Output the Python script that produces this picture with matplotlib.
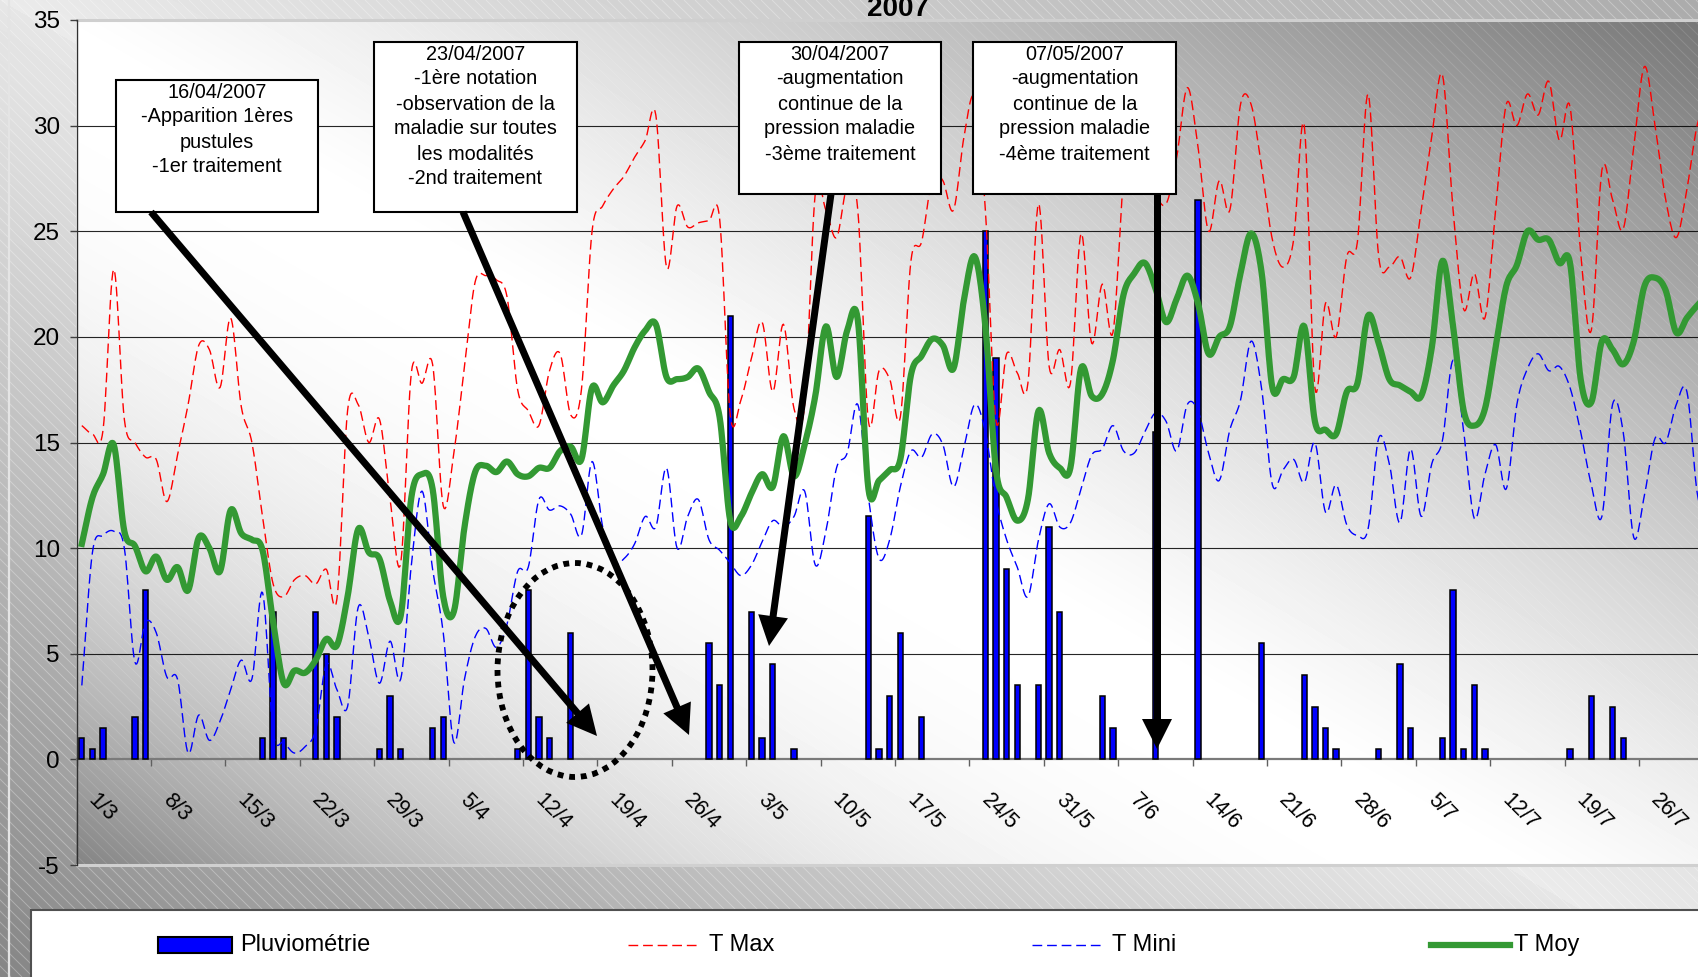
import numpy as np
import matplotlib
matplotlib.use("Agg")
import matplotlib.pyplot as plt
from matplotlib.patches import Rectangle, Ellipse, Polygon
from matplotlib.collections import LineCollection
from matplotlib.transforms import ScaledTranslation

plt.rcParams['font.family'] = ['Liberation Sans', 'DejaVu Sans']
plt.rcParams['axes.unicode_minus'] = False

W, H, DPI = 1698, 977, 100

# ---------------- data (one value per day, from 1 March 2007) ----------------
rain = [1, 0.5, 1.5, 0, 0, 2, 8,
        0, 0, 0, 0, 0, 0, 0,
        0, 0, 0, 1, 7, 1, 0,
        0, 7, 5, 2, 0, 0, 0,
        0.5, 3, 0.5, 0, 0, 1.5, 2,
        0, 0, 0, 0, 0, 0, 0.5,
        8, 2, 1, 0, 6, 0, 0,
        0, 0, 0, 0, 0, 0, 0,
        0, 0, 0, 5.5, 3.5, 21, 0,
        7, 1, 4.5, 0, 0.5, 0, 0,
        0, 0, 0, 0, 11.5, 0.5, 3,
        6, 0, 2, 0, 0, 0, 0,
        0, 25, 19, 9, 3.5, 0, 3.5,
        11, 7, 0, 0, 0, 3, 1.5,
        0, 0, 0, 15.5, 0, 0, 0,
        26.5, 0, 0, 0, 0, 0, 5.5,
        0, 0, 0, 4, 2.5, 1.5, 0.5,
        0, 0, 0, 0.5, 0, 4.5, 1.5,
        0, 0, 1, 8, 0.5, 3.5, 0.5,
        0, 0, 0, 0, 0, 0, 0,
        0.5, 0, 3, 0, 2.5, 1, 0,
        0, 0, 0, 0, 0, 0, 0]

tmax = [15.8, 15.4, 15.6, 23.2, 16.1, 15.0, 14.3,
        14.2, 12.2, 14.4, 16.8, 19.6, 19.4, 17.6,
        20.9, 16.7, 15.0, 11.5, 8.3, 7.7, 8.5,
        8.7, 8.3, 9.0, 7.6, 16.5, 16.8, 15.0,
        16.1, 12.3, 9.3, 18.3, 17.8, 18.7, 12.0,
        14.5, 18.6, 22.6, 22.9, 22.7, 21.9, 17.5,
        16.5, 15.8, 18.4, 19.2, 16.3, 17.5, 25.0,
        26.2, 27.0, 27.6, 28.5, 29.3, 30.5, 23.3,
        26.2, 25.2, 25.4, 25.5, 25.6, 16.3, 17.0,
        19.0, 20.7, 17.4, 20.6, 16.6, 16.8, 26.8,
        26.0, 24.7, 27.1, 26.0, 16.0, 18.4, 18.0,
        16.2, 23.6, 24.5, 27.5, 27.4, 26.0, 29.5,
        31.3, 26.0, 16.0, 19.2, 18.3, 17.8, 26.3,
        18.6, 19.4, 17.8, 24.9, 19.7, 22.5, 20.2,
        27.5, 30.5, 30.0, 27.0, 26.3, 28.5, 31.8,
        29.0, 25.0, 27.4, 26.0, 31.0, 31.0, 28.0,
        24.6, 23.3, 24.6, 30.0, 17.6, 21.6, 20.0,
        23.8, 24.5, 31.5, 23.8, 23.3, 23.8, 22.8,
        26.0, 29.5, 32.4, 26.0, 21.3, 23.0, 20.9,
        26.0, 31.0, 30.0, 31.5, 30.5, 32.1, 29.3,
        30.9, 24.0, 20.3, 27.9, 26.5, 25.1, 29.0,
        32.8, 30.0, 26.5, 24.7, 27.0, 30.1, 31.0]

tmin = [3.5, 9.8, 10.6, 10.8, 10.0, 4.6, 6.5,
        6.0, 3.9, 3.8, 0.3, 2.1, 0.9, 1.8,
        3.3, 4.7, 3.8, 7.9, 1.3, 0.8, 0.3,
        0.6, 1.4, 4.5, 3.3, 2.5, 7.2, 5.8,
        3.6, 5.6, 3.8, 9.2, 12.7, 9.0, 6.0,
        0.8, 3.8, 5.8, 6.2, 5.3, 6.4, 8.9,
        9.1, 12.3, 11.8, 12.0, 11.6, 10.6, 14.1,
        11.0, 9.3, 9.5, 10.2, 11.5, 11.0, 13.8,
        10.0, 11.5, 12.3, 10.4, 9.9, 9.3, 8.7,
        9.2, 10.3, 11.3, 11.0, 11.5, 12.7, 9.2,
        10.8, 13.8, 14.5, 16.8, 12.4, 9.5, 10.4,
        12.9, 14.6, 14.3, 15.4, 14.9, 12.9, 14.8,
        16.8, 15.5, 12.3, 10.4, 9.1, 7.7, 10.4,
        12.1, 11.0, 11.2, 12.8, 14.4, 14.7, 15.8,
        14.6, 14.5, 15.5, 16.4, 16.0, 14.6, 16.8,
        16.5, 14.5, 13.2, 15.6, 17.0, 19.8, 17.5,
        13.0, 13.7, 14.2, 13.1, 15.0, 11.7, 13.0,
        11.1, 10.6, 10.9, 15.2, 14.0, 11.2, 14.7,
        11.5, 14.0, 15.1, 18.9, 15.5, 11.4, 13.5,
        14.9, 12.8, 16.8, 18.5, 19.2, 18.4, 18.6,
        17.6, 15.5, 13.0, 11.5, 16.8, 15.5, 10.5,
        12.5, 15.2, 15.0, 16.8, 17.4, 12.5, 11.5]

tmoy = [10.2, 12.4, 13.5, 14.9, 10.8, 10.1, 8.9,
        9.6, 8.5, 9.1, 8.0, 10.5, 10.0, 8.9,
        11.8, 10.7, 10.4, 9.9, 6.5, 3.6, 4.2,
        4.1, 4.7, 5.7, 5.4, 7.7, 10.9, 9.8,
        9.5, 7.5, 6.8, 12.4, 13.5, 12.8, 7.7,
        7.0, 11.0, 13.6, 13.9, 13.6, 14.1, 13.5,
        13.4, 13.8, 13.8, 14.6, 14.8, 14.2, 17.6,
        16.9, 17.7, 18.4, 19.5, 20.3, 20.6, 18.1,
        18.0, 18.1, 18.5, 17.4, 16.2, 11.3, 11.5,
        12.6, 13.5, 12.9, 15.3, 13.4, 14.9, 17.2,
        20.5, 18.1, 20.3, 20.8, 12.8, 13.2, 13.7,
        14.2, 18.2, 19.1, 19.9, 19.6, 18.5, 21.8,
        23.8, 20.5, 13.7, 12.4, 11.3, 12.3, 16.5,
        14.5, 13.8, 13.8, 18.5, 17.2, 17.3, 18.9,
        22.0, 23.0, 23.5, 22.3, 20.7, 21.8, 22.9,
        21.6, 19.2, 20.0, 20.5, 23.0, 24.9, 23.0,
        17.6, 18.0, 18.1, 20.5, 16.0, 15.6, 15.4,
        17.4, 17.8, 21.0, 19.7, 18.0, 17.7, 17.4,
        17.2, 19.5, 23.6, 20.5, 16.5, 15.8, 16.6,
        19.5, 22.4, 23.4, 25.0, 24.6, 24.6, 23.5,
        23.5, 18.0, 16.9, 19.8, 19.4, 18.7, 19.8,
        22.4, 22.8, 22.2, 20.2, 20.9, 21.5, 22.0]

tick_labels = ["1/3", "8/3", "15/3", "22/3", "29/3", "5/4", "12/4", "19/4",
               "26/4", "3/5", "10/5", "17/5", "24/5", "31/5", "7/6", "14/6",
               "21/6", "28/6", "5/7", "12/7", "19/7", "26/7"]

series_names = ["Pluviométrie", "T Max", "T Mini", "T Moy"]
title = "2007"

notes = [
    ["16/04/2007", "-Apparition 1ères", "pustules", "-1er traitement"],
    ["23/04/2007", "-1ère notation", "-observation de la", "maladie sur toutes",
     "les modalités", "-2nd traitement"],
    ["30/04/2007", "-augmentation", "continue de la", "pression maladie",
     "-3ème traitement"],
    ["07/05/2007", "-augmentation", "continue de la", "pression maladie",
     "-4ème traitement"],
]

# ---------------- helpers ----------------
def smooth(x, y, k=12):
    """Excel-like smoothed line (Bezier through every point)."""
    P = np.column_stack([np.asarray(x, float), np.asarray(y, float)])
    E = np.vstack([2 * P[0] - P[1], P, 2 * P[-1] - P[-2]])
    t = np.linspace(0, 1, k, endpoint=False)[:, None]
    out = []
    for i in range(1, len(E) - 2):
        p0, p1, p2, p3 = E[i - 1], E[i], E[i + 1], E[i + 2]
        c1 = p1 + (p2 - p0) / 6.0
        c2 = p2 - (p3 - p1) / 6.0
        b = (1 - t) ** 3 * p1 + 3 * (1 - t) ** 2 * t * c1 + 3 * (1 - t) * t ** 2 * c2 + t ** 3 * p2
        out.append(b)
    out.append(P[-1][None, :])
    return np.vstack(out)

# ---------------- figure & background ----------------
fig = plt.figure(figsize=(W / DPI, H / DPI), dpi=DPI)

bg = fig.add_axes([0, 0, 1, 1], zorder=0)
bg.set_axis_off()
yy, xx = np.mgrid[0:H, 0:W]
g = xx / W - yy / H
fig_c = np.where(g > 0, 0.92 - 0.25 * g, 0.90 - 0.38 * np.abs(g) ** 1.2)
plot_c = np.where(g > 0, 1 - 0.55 * np.abs(g) ** 1.25, 1 - 0.72 * np.abs(g) ** 2.25)
bg.imshow(np.clip(fig_c, 0, 1), cmap='gray', vmin=0, vmax=1, extent=[0, W, H, 0],
          aspect='auto', interpolation='bilinear', zorder=0)
segs = [[(x0, 0), (x0 + H, H)] for x0 in np.arange(-H, W + 20, 11)]
bg.add_collection(LineCollection(segs, colors=[(1, 1, 1, 0.30)], linewidths=0.7, zorder=1))
PL, PT, PB = 76.5, 20, 865
bg.imshow(np.clip(plot_c[PT:PB, int(PL):W], 0, 1), cmap='gray', vmin=0, vmax=1,
          extent=[PL, W, PB, PT], aspect='auto', interpolation='bilinear', zorder=2)
lc2 = LineCollection(segs, colors=[(1, 1, 1, 0.13)], linewidths=0.7, zorder=3)
bg.add_collection(lc2)
clip_rect = Rectangle((PL, PT), W, PB - PT, transform=bg.transData)
lc2.set_clip_path(clip_rect)
bg.plot([9, 9], [0, H], color='#e4e4e4', lw=1.6, zorder=4)
bg.set_xlim(0, W)
bg.set_ylim(H, 0)

# ---------------- main axes ----------------
DW = 10.63                   # pixels per day
NX = 160                     # categories spanned by the plot area (extends past the page)
ax = fig.add_axes([PL / W, (H - PB) / H, NX * DW / W, (PB - PT) / H], zorder=1)
ax.patch.set_visible(False)
n = len(tmoy)
days = np.arange(n)
ax.set_xlim(-0.5, NX - 0.5)
ax.set_ylim(-5, 35)

for v in range(5, 35, 5):
    ax.axhline(v, color='black', lw=0.8, alpha=0.85, zorder=1)
ax.axhline(35, color='#cfcfcf', lw=2.2, zorder=1, clip_on=False)
ax.axhline(-5, color='#d0d0d0', lw=2.2, zorder=1, clip_on=False)

rain_arr = np.asarray(rain, float)
mask = rain_arr > 0
ax.bar(days[mask], rain_arr[mask], width=0.5, color='#0000FF', edgecolor='black',
       linewidth=1.1, zorder=3)

dash = (0, (7, 3.5))
sx = smooth(days, tmax)
ax.plot(sx[:, 0], sx[:, 1], color='#FF0000', lw=1.0, ls=dash, zorder=4)
sn = smooth(days, tmin)
ax.plot(sn[:, 0], sn[:, 1], color='#0000FF', lw=1.0, ls=dash, zorder=4)
sm = smooth(days, tmoy)
ax.plot(sm[:, 0], sm[:, 1], color='#339933', lw=4.5, zorder=5, solid_joinstyle='round')

for s in ['top', 'right']:
    ax.spines[s].set_visible(False)
ax.spines['bottom'].set_position(('data', 0))
ax.spines['bottom'].set_color('#7a7a7a')
ax.spines['bottom'].set_linewidth(1.6)
ax.spines['bottom'].set_zorder(2)
ax.spines['left'].set_color('#303030')
ax.spines['left'].set_linewidth(1.0)

ax.set_yticks(range(-5, 36, 5))
ax.set_yticklabels([str(v) for v in range(-5, 36, 5)], fontsize=17.5)
ax.tick_params(axis='y', direction='out', length=5, width=1, color='#404040', pad=7)
ax.set_xticks(np.arange(-0.5, NX, 7))
ax.set_xticklabels([])
ax.tick_params(axis='x', direction='out', length=5, width=1, color='#606060')

label_days = days[::7][:len(tick_labels)]
off = ax.transData + ScaledTranslation(17 / DPI, -30 / DPI, fig.dpi_scale_trans)
for d, lab in zip(label_days, tick_labels):
    ax.text(d, 0, lab, transform=off, rotation=-45, rotation_mode='anchor',
            ha='left', va='top', fontsize=15.5, clip_on=False)

# ---------------- overlay: title, notes, arrows, legend ----------------
ov = fig.add_axes([0, 0, 1, 1], zorder=2)
ov.set_axis_off()
ov.patch.set_visible(False)
ov.set_xlim(0, W)
ov.set_ylim(H, 0)

ov.text(898.5, 16, title, ha='center', va='baseline', fontsize=20, fontweight='bold')

boxes = [(116, 80, 318, 212), (374, 42, 577, 212), (739, 42, 941, 194), (973.5, 42, 1176, 194)]
for (x0, y0, x1, y1), lines in zip(boxes, notes):
    ov.add_patch(Rectangle((x0, y0), x1 - x0, y1 - y0, facecolor='white',
                           edgecolor='black', lw=1.5, zorder=5))
    for i, line in enumerate(lines):
        ov.text((x0 + x1) / 2, y0 + 12 + 25 * i, line, ha='center', va='center',
                fontsize=14.3, zorder=6)

def arrow(x0, y0, x1, y1, lw_px=7, hl=30, hw=30):
    p0 = np.array([x0, y0], float)
    p1 = np.array([x1, y1], float)
    d = (p1 - p0) / np.hypot(*(p1 - p0))
    nrm = np.array([-d[1], d[0]])
    base = p1 - d * hl
    ov.plot([p0[0], base[0] + d[0] * 3], [p0[1], base[1] + d[1] * 3], color='black',
            lw=lw_px * 0.72, solid_capstyle='butt', zorder=7)
    ov.add_patch(Polygon([p1, base + nrm * hw / 2, base - nrm * hw / 2], closed=True,
                         facecolor='black', edgecolor='none', zorder=7))

arrow(151, 212, 597, 736)
arrow(463, 212, 689, 735)
arrow(831, 194, 769, 646)
arrow(1157, 194, 1157, 749)

ov.add_patch(Ellipse((575, 670), 155, 214, fill=False, edgecolor='black', lw=4.2,
                     ls=(0, (1, 1)), zorder=7))

# legend
ov.add_patch(Rectangle((30.7, 910), 1720, 120, facecolor='white', edgecolor='#505050',
                       lw=1.5, zorder=5))
ly = 945
ov.add_patch(Rectangle((158, 937), 74, 16, facecolor='#0000FF', edgecolor='black',
                       lw=1.5, zorder=6))
ov.text(240, ly, series_names[0], ha='left', va='center', fontsize=17, zorder=6)
ov.plot([628, 698], [ly, ly], color='#FF0000', lw=1.0, ls=dash, zorder=6)
ov.text(709, ly, series_names[1], ha='left', va='center', fontsize=17, zorder=6)
ov.plot([1032, 1102], [ly, ly], color='#0000FF', lw=1.0, ls=dash, zorder=6)
ov.text(1112, ly, series_names[2], ha='left', va='center', fontsize=17, zorder=6)
ov.plot([1431, 1510], [ly, ly], color='#339933', lw=4.5, zorder=6)
ov.text(1514, ly, series_names[3], ha='left', va='center', fontsize=17, zorder=6)

fig.savefig('out.png', dpi=DPI)
